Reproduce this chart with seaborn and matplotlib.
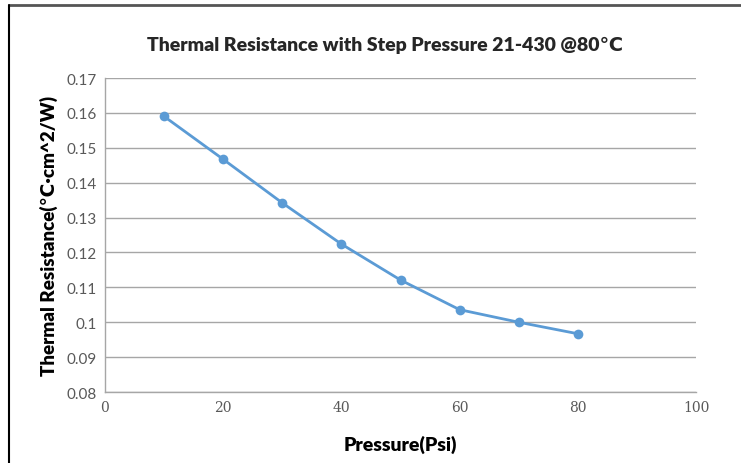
import matplotlib
matplotlib.use("Agg")
import matplotlib.pyplot as plt
import seaborn as sns
import pandas as pd

# Chart values
pressure = [10, 20, 30, 40, 50, 60, 70, 80]
resistance = [0.1590, 0.1467, 0.1342, 0.1224, 0.1121, 0.1036, 0.1000, 0.0967]
x_ticks = [0, 20, 40, 60, 80, 100]
y_ticks = [0.08, 0.09, 0.10, 0.11, 0.12, 0.13, 0.14, 0.15, 0.16, 0.17]
y_tick_labels = ["0.08", "0.09", "0.1", "0.11", "0.12", "0.13", "0.14", "0.15", "0.16", "0.17"]

data = pd.DataFrame({"Pressure": pressure, "Resistance": resistance})

sns.set_style("white")
plt.rcParams["font.family"] = ["Lato", "DejaVu Sans"]

fig = plt.figure(figsize=(7.41, 4.64), dpi=100)
ax = fig.add_axes([0.1417, 0.153, 0.7976, 0.6767])

sns.lineplot(
    data=data, x="Pressure", y="Resistance", ax=ax,
    color="#5B9BD5", linewidth=2, marker="o", markersize=7,
    markeredgewidth=0, zorder=3
)

ax.set_xlim(0, 100)
ax.set_ylim(0.08, 0.17)
ax.set_xticks(x_ticks)
ax.set_xticklabels([str(t) for t in x_ticks], family="DejaVu Serif",
                   fontsize=10, color="#595959")
ax.set_yticks(y_ticks)
ax.set_yticklabels(y_tick_labels, fontsize=11, color="#595959")
ax.tick_params(axis="both", length=0, pad=6)

ax.grid(axis="y", color="#A6A6A6", linewidth=1)
ax.grid(axis="x", visible=False)
for side in ["top", "right"]:
    ax.spines[side].set_visible(False)
for side in ["left", "bottom"]:
    ax.spines[side].set_color("#A6A6A6")
    ax.spines[side].set_linewidth(1)

ax.set_xlabel("Pressure(Psi)", fontsize=14, fontweight="heavy", color="#000000", labelpad=15)
ax.set_ylabel("Thermal Resistance(℃·cm^2/W)", fontsize=13.5, fontweight="heavy",
              color="#000000", labelpad=6)
fig.text(0.519, 0.903, "Thermal Resistance with Step Pressure 21-430 @80℃",
         ha="center", va="center", fontsize=14, fontweight="heavy")

# outer frame lines (top and left only)
fig.add_artist(plt.Line2D([0.012, 1.0], [0.988, 0.988], color="#555555", linewidth=2,
                          transform=fig.transFigure))
fig.add_artist(plt.Line2D([0.012, 0.012], [0.0, 0.988], color="#000000", linewidth=1.5,
                          transform=fig.transFigure))

fig.savefig("out.png", dpi=100)
plt.close(fig)
